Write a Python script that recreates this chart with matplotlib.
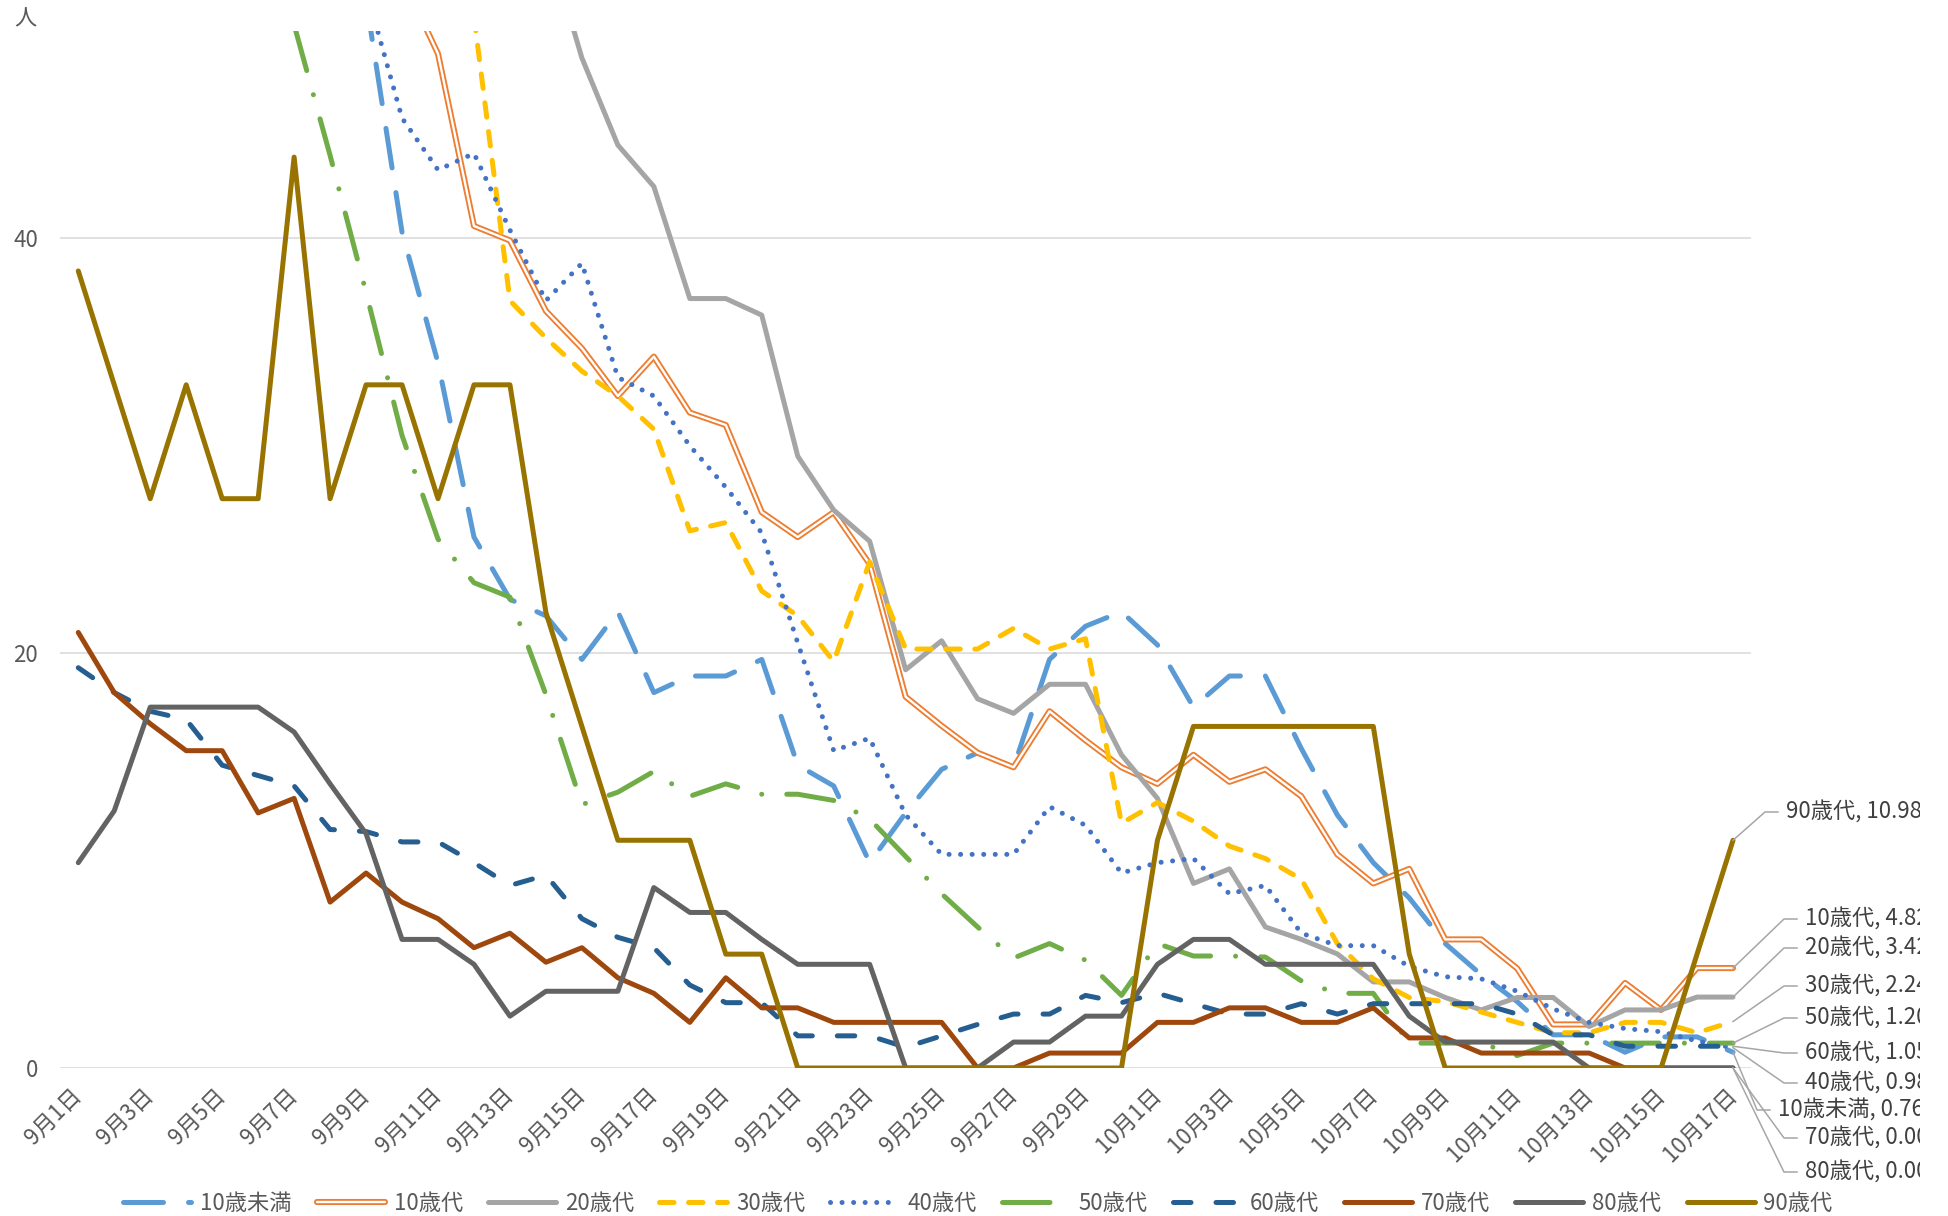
import numpy as np
import matplotlib
matplotlib.use('Agg')
import matplotlib.pyplot as plt
import matplotlib.patheffects as pe
from matplotlib.lines import Line2D
from matplotlib.transforms import IdentityTransform, Bbox

plt.rcParams['font.family'] = ['Noto Sans CJK JP', 'DejaVu Sans']

# categories: 9/1 .. 10/17
dates = ['9月%d日' % d for d in range(1, 31)] + ['10月%d日' % d for d in range(1, 18)]

# values per age group (None = above the plotted range, not readable)
u10 = [None, None, None, None, None, None, None, None, 51.5, 40.3,
       34.0, 25.6, 22.6, 21.8, 19.7, 22.0, 18.1, 18.9, 18.9, 19.7,
       14.6, 13.6, 9.9, 12.3, 14.4, 15.2, 14.5, 19.7, 21.3, 22.0,
       20.4, 17.4, 18.9, 18.9, 15.4, 12.2, 9.9, 8.2, 6.0, 4.5,
       3.2, 1.6, 1.6, 0.76, 1.5, 1.5, 0.76]
s10 = [None, None, None, None, None, None, None, None, None, 52.6,
       48.9, 40.6, 39.9, 36.5, 34.7, 32.4, 34.3, 31.6, 31.0, 26.8,
       25.6, 26.8, 24.3, 17.9, 16.5, 15.2, 14.5, 17.2, 15.8, 14.5,
       13.7, 15.1, 13.8, 14.4, 13.1, 10.3, 8.9, 9.6, 6.2, 6.2,
       4.8, 2.1, 2.1, 4.1, 2.8, 4.82, 4.82]
s20 = [None, None, None, None, None, None, None, None, None, None,
       None, None, None, 54.6, 48.7, 44.5, 42.5, 37.1, 37.1, 36.3,
       29.5, 26.9, 25.4, 19.2, 20.6, 17.8, 17.1, 18.5, 18.5, 15.1,
       13.0, 8.9, 9.6, 6.8, 6.2, 5.5, 4.15, 4.15, 3.4, 2.8,
       3.4, 3.4, 2.0, 2.8, 2.8, 3.42, 3.42]
s30 = [None, None, None, None, None, None, None, None, None, None,
       None, 50.7, 37.0, 35.2, 33.6, 32.4, 30.8, 25.9, 26.3, 23.0,
       21.8, 19.6, 24.4, 20.2, 20.2, 20.2, 21.2, 20.2, 20.7, 11.8,
       12.8, 11.9, 10.7, 10.1, 9.1, 6.0, 4.3, 3.4, 3.2, 2.7,
       2.2, 1.7, 1.7, 2.2, 2.2, 1.7, 2.24]
s40 = [None, None, None, None, None, None, None, None, 52.0, 45.8,
       43.3, 44.1, 40.4, 37.0, 38.8, 33.3, 32.4, 30.0, 28.0, 25.8,
       20.5, 15.3, 15.9, 12.2, 10.3, 10.3, 10.3, 12.6, 11.7, 9.4,
       9.9, 10.1, 8.4, 8.8, 6.5, 5.9, 5.9, 4.9, 4.4, 4.3,
       3.7, 2.85, 2.2, 1.9, 1.75, 1.3, 0.98]
s50 = [None, None, None, None, None, None, 50.3, 44.0, 37.4, 30.5,
       25.5, 23.4, 22.7, 18.0, 12.7, 13.3, 14.3, 13.1, 13.7, 13.2,
       13.2, 12.9, 12.0, 10.2, 8.4, 6.8, 5.3, 6.0, 5.2, 3.5,
       6.0, 5.4, 5.4, 5.35, 4.2, 3.6, 3.6, 1.2, 1.2, 1.2,
       0.6, 1.2, 1.2, 1.2, 1.2, 1.2, 1.20]
s60 = [19.3, 18.1, 17.2, 16.8, 14.6, 14.1, 13.6, 11.5, 11.4, 10.9,
       10.9, 9.9, 8.8, 9.3, 7.2, 6.3, 5.8, 4.0, 3.15, 3.15,
       1.55, 1.55, 1.55, 1.0, 1.55, 2.1, 2.6, 2.6, 3.5, 3.15,
       3.6, 3.1, 2.6, 2.6, 3.1, 2.6, 3.1, 3.1, 3.1, 3.1,
       2.6, 1.6, 1.6, 1.05, 1.05, 1.05, 1.05]
s70 = [21.0, 18.1, 16.6, 15.3, 15.3, 12.3, 13.0, 8.0, 9.4, 8.0,
       7.2, 5.8, 6.5, 5.1, 5.8, 4.35, 3.6, 2.2, 4.35, 2.9,
       2.9, 2.2, 2.2, 2.2, 2.2, 0, 0, 0.72, 0.72, 0.72,
       2.2, 2.2, 2.9, 2.9, 2.2, 2.2, 2.9, 1.45, 1.45, 0.72,
       0.72, 0.72, 0.72, 0, 0, 0, 0]
s80 = [9.9, 12.4, 17.4, 17.4, 17.4, 17.4, 16.2, 13.7, 11.3, 6.2,
       6.2, 5.0, 2.5, 3.7, 3.7, 3.7, 8.7, 7.5, 7.5, 6.2,
       5.0, 5.0, 5.0, 0, 0, 0, 1.25, 1.25, 2.5, 2.5,
       5.0, 6.2, 6.2, 5.0, 5.0, 5.0, 5.0, 2.5, 1.25, 1.25,
       1.25, 1.25, 0, 0, 0, 0, 0]
s90 = [38.43, 32.94, 27.45, 32.94, 27.45, 27.45, 43.92, 27.45, 32.94, 32.94,
       27.45, 32.94, 32.94, 21.96, 16.47, 10.98, 10.98, 10.98, 5.49, 5.49,
       0, 0, 0, 0, 0, 0, 0, 0, 0, 0,
       10.98, 16.47, 16.47, 16.47, 16.47, 16.47, 16.47, 5.49, 0, 0,
       0, 0, 0, 0, 0, 5.49, 10.98]

names = ['10歳未満', '10歳代', '20歳代', '30歳代', '40歳代',
         '50歳代', '60歳代', '70歳代', '80歳代', '90歳代']
values = [u10, s10, s20, s30, s40, s50, s60, s70, s80, s90]

# line styles (Excel-like, round dash caps)
styles = [
    dict(color='#5B9BD5', ls=(0, (8, 5))),
    dict(color='white', ls='-', lw=1.7,
         path_effects=[pe.Stroke(linewidth=4.4, foreground='#ED7D31'), pe.Normal()]),
    dict(color='#A5A5A5', ls='-'),
    dict(color='#FFC000', ls=(0, (2.9, 2.9))),
    dict(color='#4472C4', ls=(0, (0.01, 2.3))),
    dict(color='#70AD47', ls=(0, (9.5, 5, 0.01, 5))),
    dict(color='#255E91', ls=(0, (3.5, 5))),
    dict(color='#9E480E', ls='-'),
    dict(color='#636363', ls='-'),
    dict(color='#997300', ls='-'),
]

# label placement at the right (figure pixels from top / left)
label_y = {'90歳代': 812, '10歳代': 919, '20歳代': 948, '30歳代': 986, '50歳代': 1018,
           '60歳代': 1053, '40歳代': 1083, '10歳未満': 1110, '70歳代': 1138, '80歳代': 1172}
label_x = {'90歳代': 1786, '10歳未満': 1778}

W, H = 1948, 1216
fig = plt.figure(figsize=(W / 100, H / 100), dpi=100)
ax = fig.add_axes([60.3 / W, 1 - 1068 / H, (1751 - 60.3) / W, (1068 - 31) / H])

x = np.arange(len(dates))
for name, vals, st in zip(names, values, styles):
    y = np.array([np.nan if v is None else v for v in vals], dtype=float)
    kw = dict(lw=3.6, solid_capstyle='round', solid_joinstyle='round',
              dash_capstyle='round', dash_joinstyle='round')
    kw.update(st)
    ax.plot(x, y, label=name, **kw)

ax.set_xlim(-0.5, len(dates) - 0.5)
ax.set_ylim(0, 50)
ax.set_yticks([0, 20, 40])
ax.set_xticks(x[::2])
ax.set_xticklabels(dates[::2], rotation=45, ha='right', va='center', rotation_mode='anchor')
ax.tick_params(axis='both', length=0, labelsize=16, labelcolor='#595959')
ax.tick_params(axis='x', pad=17)
ax.tick_params(axis='y', pad=16)
ax.yaxis.grid(True, color='#D9D9D9', lw=1.1)
ax.set_axisbelow(True)
for sp in ax.spines.values():
    sp.set_visible(False)

fig.text(25 / W, 1 - 19 / H, '人', ha='center', va='center', fontsize=16, color='#595959')

# data labels with leader lines; chart area ends at x=1920
clip = Bbox.from_extents(0, 0, 1920, H)
for name, vals in zip(names, values):
    px, py = ax.transData.transform((x[-1], vals[-1]))
    tx = label_x.get(name, 1805)
    ty = H - label_y[name]
    fig.add_artist(Line2D([px, tx - 21, tx - 8], [py, ty, ty], transform=IdentityTransform(),
                          color='#A6A6A6', lw=1.1))
    t = fig.text(tx / W, ty / H, '%s, %.2f' % (name, vals[-1]), ha='left', va='center',
                 fontsize=16, color='#404040')
    t.set_clip_box(clip)

handles, labels = ax.get_legend_handles_labels()
fig.legend(handles, labels, loc='center', bbox_to_anchor=(0.502, 13 / H), ncol=10,
           frameon=False, fontsize=16, handlelength=3.06, handletextpad=0.4,
           columnspacing=1.13, labelcolor='#595959')

fig.savefig('out.png', dpi=100)
